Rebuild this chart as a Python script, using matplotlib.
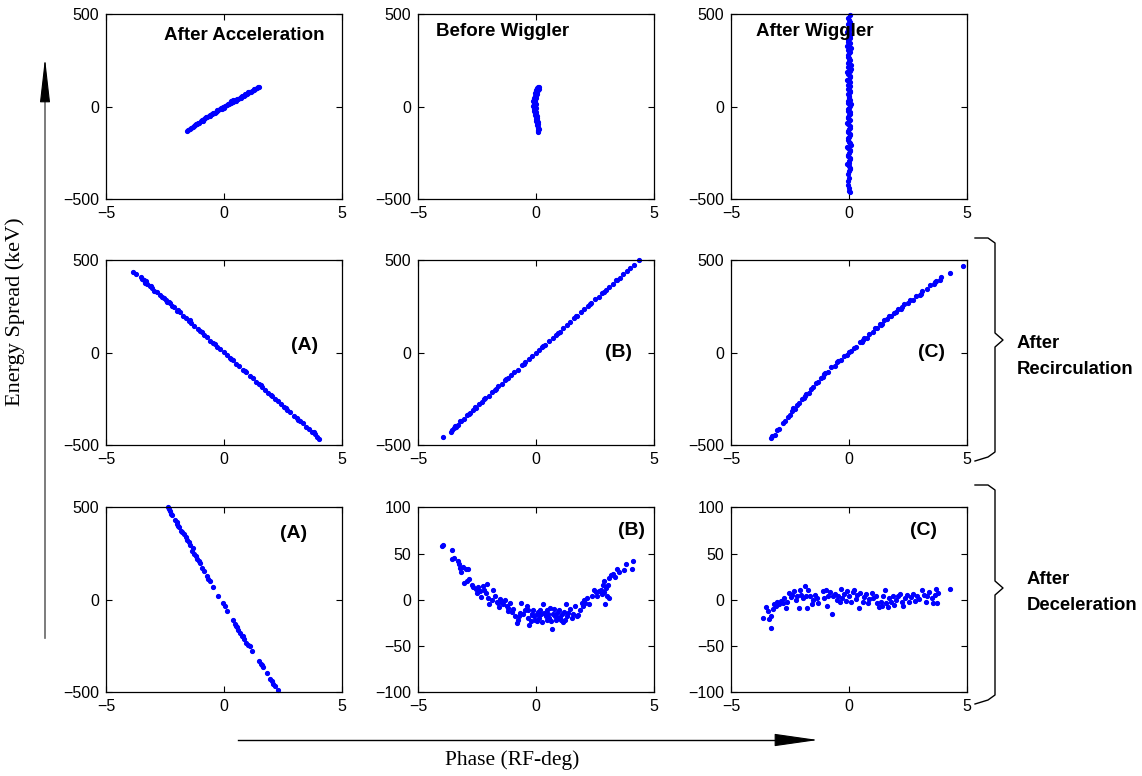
import matplotlib
matplotlib.use("Agg")
import matplotlib.pyplot as plt

# ---- panel data (phase in RF-deg, energy spread in keV) ----
acc_x = [-1.58, -1.52, -1.45, -1.40, -1.33, -1.28, -1.22, -1.15, -1.10, -1.05, -0.98, -0.92, -0.86,
         -0.80, -0.75, -0.70, -0.64, -0.58, -0.52, -0.47, -0.40, -0.35, -0.30, -0.24, -0.18, -0.12,
         -0.06, 0.00, 0.06, 0.12, 0.18, 0.24, 0.30, 0.36, 0.42, 0.48, 0.54, 0.60, 0.66, 0.72, 0.78,
         0.84, 0.90, 0.96, 1.02, 1.08, 1.14, 1.20, 1.26, 1.32, 1.38, 1.45, 1.50,
         -1.20, -0.90, -0.60, -0.30, 0.00, 0.20, 0.40, 0.70, 1.00, 1.25, -0.50, 0.90, 0.50, -0.10, 0.30]
acc_y = [-134, -128, -122, -115, -112, -104, -100, -95, -88, -86, -78, -75, -68,
         -64, -58, -56, -50, -45, -42, -36, -32, -27, -24, -18, -14, -10,
         -4, 0, 4, 9, 14, 17, 22, 27, 30, 35, 40, 43, 48, 52, 57,
         60, 65, 68, 73, 77, 81, 86, 89, 94, 99, 104, 107,
         -92, -80, -52, -18, -6, 12, 34, 46, 78, 93, -38, 71, 31, -13, 28]

bw_x = [0.14, 0.10, 0.05, 0.12, 0.02, 0.08, -0.02, 0.06, -0.04, 0.03, -0.06, 0.01, -0.08, -0.01,
        -0.10, -0.03, -0.12, -0.05, -0.09, -0.02, -0.11, -0.04, -0.08, -0.01, -0.10, -0.03, -0.07,
        0.00, -0.06, 0.02, -0.04, 0.03, -0.02, 0.05, 0.00, 0.06, 0.02, 0.08, 0.04, 0.09, 0.05, 0.10,
        0.07, 0.11, 0.08, 0.10, 0.09]
bw_y = [107, 104, 100, 98, 92, 88, 82, 78, 72, 66, 60, 55, 48, 44,
        38, 32, 28, 22, 16, 12, 6, 2, -4, -8, -14, -18, -24,
        -28, -34, -38, -44, -50, -55, -60, -66, -72, -78, -84, -90, -96, -102, -108,
        -114, -120, -126, -132, -138]

aw_x = [0.05, 0.02, -0.03, 0.04, -0.05, 0.01, 0.06, -0.02, 0.03, -0.06, 0.00, 0.05, -0.04, 0.02,
        -0.01, 0.07, -0.05, 0.03, -0.02, 0.05, -0.06, 0.01, 0.04, -0.03, 0.06, -0.01, 0.02, -0.05,
        0.08, 0.00, -0.04, 0.05, -0.02, 0.03, -0.06, 0.06, 0.01, -0.03, 0.04, -0.05, 0.02, 0.07,
        -0.02, 0.03, -0.04, 0.05, 0.00, -0.06, 0.04, 0.01, -0.03, 0.02,
        -0.04, 0.06, -0.01, 0.03, -0.07, 0.02, 0.05, -0.03, 0.00, 0.07, -0.05, 0.02, -0.02, 0.06,
        -0.04, 0.01, 0.08, -0.06, 0.03, -0.01, 0.05, -0.03, 0.02, 0.06, -0.05, 0.00, 0.04, -0.02,
        0.03, -0.04, 0.05, 0.01, -0.03, 0.02]
aw_y = [495, 470, 450, 432, 415, 398, 380, 362, 345, 330, 312, 296, 280, 262,
        245, 228, 212, 195, 178, 160, 145, 128, 110, 95, 78, 60, 44, 28,
        12, -5, -22, -38, -55, -72, -88, -105, -122, -140, -156, -172, -190, -208,
        -225, -242, -260, -278, -295, -312, -330, -350, -405, -455,
        482, 460, 440, 422, 405, 388, 370, 352, 336, 320, 304, 288, 270, 252,
        236, 220, 203, 186, 168, 152, 136, 118, 102, 86, 68, 52, 36, 20,
        4, -14, -30, -46, -64, -80]
aw_extra_x = [-0.05, 0.04, -0.02, 0.06, 0.01, -0.04, 0.03, -0.06, 0.05, 0.00, -0.03, 0.04, 0.02,
              -0.01, 0.05, -0.04, 0.02, -0.05, 0.01, 0.03]
aw_extra_y = [-96, -114, -130, -148, -164, -180, -198, -216, -234, -250, -268, -286, -304,
              -320, -340, -365, -385, -425, -440, -462]

recA_x = [-3.84, -3.72, -3.52, -3.48, -3.40, -3.35, -3.25, -3.15, -3.05, -2.95, -2.85, -2.72, -2.62,
          -2.55, -2.40, -2.30, -2.22, -2.10, -2.00, -1.88, -1.75, -1.62, -1.50, -1.38, -1.25, -1.12,
          -1.00, -0.85, -0.70, -0.58, -0.45, -0.30, -0.15, 0.00, 0.12, 0.25, 0.38, 0.52, 0.65, 0.80,
          0.95, 1.10, 1.22, 1.35, 1.48, 1.60, 1.75, 1.88, 2.00, 2.15, 2.28, 2.42, 2.55, 2.68, 2.80,
          2.95, 3.08, 3.20, 3.35, 3.48, 3.60, 3.72, 3.85, 3.95, 4.04,
          -3.30, -3.10, -2.45, -2.35, -1.95, -1.45, -0.95, -0.40, 0.30, 0.90, 1.55, 2.05, 2.62, 3.15, 3.80]
recA_y = [436, 428, 410, 398, 392, 380, 372, 360, 352, 336, 330, 312, 300,
          295, 272, 268, 252, 246, 226, 218, 200, 188, 170, 162, 142, 130,
          118, 96, 84, 64, 55, 32, 20, 2, -10, -30, -40, -60, -72, -92,
          -106, -128, -138, -158, -168, -186, -200, -220, -228, -250, -260, -280, -292, -312, -320,
          -342, -352, -370, -382, -402, -412, -430, -440, -458, -468,
          386, 362, 288, 276, 232, 176, 112, 48, -34, -100, -174, -236, -300, -366, -432]

recB_x = [-3.95, -3.62, -3.55, -3.48, -3.40, -3.30, -3.18, -3.05, -2.92, -2.80, -2.68, -2.55, -2.42,
          -2.30, -2.15, -2.00, -1.88, -1.75, -1.60, -1.45, -1.30, -1.18, -1.05, -0.92, -0.78, -0.60,
          -0.45, -0.30, -0.15, 0.00, 0.12, 0.25, 0.40, 0.55, 0.70, 0.85, 1.00, 1.15, 1.30, 1.45, 1.60,
          1.75, 1.90, 2.05, 2.20, 2.35, 2.50, 2.65, 2.80, 2.95, 3.10, 3.25, 3.40, 3.55, 3.70, 3.85,
          4.00, 4.15, 4.38,
          -3.45, -3.22, -2.85, -2.60, -2.20, -1.70, -1.25, -0.50, 0.30, 0.95, 1.70, 2.30, 2.90, 3.45]
recB_y = [-454, -428, -420, -408, -404, -392, -372, -360, -340, -326, -312, -298, -276,
          -266, -246, -232, -214, -202, -182, -168, -150, -136, -120, -104, -92, -68,
          -52, -36, -16, 0, 12, 30, 44, 64, 80, 98, 114, 132, 150, 164, 186,
          198, 222, 236, 254, 268, 290, 302, 322, 338, 356, 370, 392, 404, 426, 440,
          458, 474, 500,
          -398, -372, -332, -296, -252, -196, -142, -60, 36, 106, 196, 262, 328, 396]

recC_x = [-3.28, -3.25, -3.15, -3.05, -2.95, -2.80, -2.70, -2.60, -2.50, -2.42, -2.30, -2.20, -2.10,
          -2.00, -1.90, -1.80, -1.70, -1.60, -1.50, -1.40, -1.30, -1.20, -1.10, -1.00, -0.90, -0.75,
          -0.60, -0.50, -0.35, -0.20, -0.10, 0.00, 0.10, 0.20, 0.30, 0.45, 0.55, 0.65, 0.75, 0.85,
          1.00, 1.10, 1.20, 1.30, 1.40, 1.50, 1.60, 1.70, 1.80, 1.90, 2.00, 2.10, 2.20, 2.35, 2.50,
          2.60, 2.70, 2.85, 3.00, 3.10, 3.30, 3.45, 3.60, 3.70, 3.85, 3.90, 4.30, 4.85,
          -2.35, -1.85, -1.05, -0.45, 0.60, 1.35, 2.25, 3.05, 3.65]
recC_y = [-464, -453, -446, -420, -413, -380, -372, -348, -340, -318, -306, -282, -273,
          -250, -245, -222, -216, -194, -188, -166, -159, -137, -131, -109, -103, -79,
          -70, -51, -42, -18, -14, 4, 8, 27, 30, 56, 60, 79, 82, 102,
          111, 131, 134, 154, 157, 176, 180, 197, 199, 217, 219, 237, 239, 261, 267,
          285, 286, 309, 315, 333, 343, 365, 372, 389, 396, 409, 430, 469,
          -300, -236, -116, -47, 68, 150, 250, 320, 383]

decA_x = [-2.39, -2.33, -2.29, -2.25, -2.06, -2.01, -1.95, -1.89, -1.84, -1.79, -1.62, -1.55, -1.50,
          -1.44, -1.36, -1.27, -1.19, -1.13, -1.07, -0.93, -0.86, -0.73, -0.66, -0.59, -0.45, -0.24,
          -0.03, 0.04, 0.14, 0.40, 0.47, 0.54, 0.61, 0.68, 0.75, 0.85, 0.93, 1.03, 1.17, 1.47, 1.55,
          1.67, 1.81, 1.95, 2.02, 2.09, 2.27,
          -2.20, -1.98, -1.70, -1.30, -1.00, 0.50, 0.80, 1.10, 1.60, 2.15]
decA_y = [500, 490, 482, 466, 430, 418, 400, 392, 374, 368, 338, 322, 310,
          294, 266, 250, 238, 218, 210, 170, 158, 130, 110, 100, 68, 18,
          -18, -36, -63, -111, -129, -147, -165, -179, -197, -215, -233, -247, -278, -332, -349,
          -367, -398, -427, -439, -457, -489,
          456, 412, 356, 282, 196, -140, -196, -252, -356, -470]

decB_x = [-4.00, -3.93, -3.57, -3.55, -3.47, -3.29, -3.25, -3.22, -3.18, -3.08, -2.97, -2.88, -3.04,
          -2.94, -2.82, -2.73, -2.66, -2.54, -2.44, -2.51, -2.37, -2.26, -2.20, -2.12, -2.06, -2.33,
          -2.02, -1.98, -1.88, -1.81, -1.74, -1.67, -1.60, -1.53, -1.45, -1.38, -1.55, -1.31, -1.24,
          -1.17, -1.10, -1.03, -0.96, -0.89, -0.82, -0.75, -0.68, -0.64, -0.54, -0.47, -0.40, -0.32,
          -0.28, -0.23, -0.16, -0.11, -0.08, -0.04, 0.03, 0.10, 0.14, 0.17, 0.24, 0.28, 0.34, 0.41,
          0.45, 0.52, 0.56, 0.62, 0.66, 0.71, 0.76, 0.81, 0.88, 0.92, 0.99, 1.05, 1.12, 1.16, 1.20,
          1.26, 1.30, 1.37, 1.44, 1.51, 1.58, 1.65, 1.72, 1.79, 1.86, 1.94, 1.98, 2.03, 2.08, 2.15,
          2.26, 2.36, 2.46, 2.54, 2.60, 2.68, 2.75, 2.81, 2.85, 2.90, 2.94, 2.97, 3.00, 3.04, 3.09,
          3.16, 3.25, 3.35, 3.42, 3.53, 3.73, 3.81, 4.08, 4.12,
          -0.32, -0.18, 0.06, 0.20, 0.45, 0.85, 1.23, -1.20, -0.70, 0.60, 1.00, 2.90, 3.10]
decB_y = [58, 59, 54, 44, 45, 42, 39, 34, 30, 35, 33, 33, 18,
          20, 22, 16, 14, 12, 14, 7, 9, 15, 11, 7, 17, 3,
          2, -5, 0, 11, 4, -2, -4, 1, -2, -5, -8, 0, -7,
          -9, -4, -13, -10, -18, -25, -22, -14, -4, -16, -11, -7, -20,
          -27, -23, -15, -11, -18, -22, -16, -13, -20, -11, -24, -5, -14, -18,
          -11, -15, -20, -23, -32, -16, -10, -18, -14, -20, -11, -22, -16, -24, -13,
          -5, -18, -14, -10, -20, -16, -7, -18, -17, -11, -4, -7, 0, -4, 2,
          -5, 4, 11, 8, 4, 9, 11, 6, 16, 20, -5, 13, 4, 16, 23,
          27, 28, 25, 33, 30, 32, 39, 33, 42,
          -11, -17, -23, -15, -22, -22, -22, -12, -18, -9, -19, 8, 2]

decC_x = [-3.63, -3.52, -3.42, -3.38, -3.32, -3.28, -3.23, -3.18, -3.09, -3.04, -2.95, -2.88, -2.81,
          -2.74, -2.67, -2.61, -2.53, -2.46, -2.39, -2.33, -2.25, -2.19, -2.13, -2.08, -2.01, -1.94,
          -1.86, -1.82, -1.77, -1.72, -1.65, -1.58, -1.51, -1.44, -1.37, -1.30, -1.09, -1.06, -0.97,
          -0.92, -0.88, -0.81, -0.71, -0.66, -0.59, -0.52, -0.45, -0.38, -0.35, -0.28, -0.21, -0.13,
          -0.06, 0.01, 0.07, 0.16, 0.23, 0.30, 0.35, 0.44, 0.49, 0.58, 0.65, 0.72, 0.79, 0.86, 0.96,
          1.03, 1.14, 1.20, 1.29, 1.34, 1.40, 1.45, 1.51, 1.57, 1.64, 1.71, 1.77, 1.85, 1.91, 1.99,
          2.06, 2.16, 2.23, 2.30, 2.37, 2.47, 2.56, 2.63, 2.70, 2.80, 2.87, 2.97, 3.08, 3.18, 3.26,
          3.32, 3.40, 3.50, 3.57, 3.64, 3.69, 3.74, 3.79, 4.28]
decC_y = [-20, -8, -12, -21, -31, -18, -10, -5, -7, -2, -5, -1, -4,
          2, -9, -2, 7, 3, 5, 9, 0, 4, -9, 11, 5, 2,
          15, 4, -9, 11, 4, -5, 0, 5, 2, -4, 9, 2, 11,
          -7, 4, 8, -15, 4, 6, 0, 4, -3, 12, 2, 6, -1,
          9, 4, -3, 8, 10, 1, 5, -9, 7, -2, 3, 6, -4, 1, 7,
          2, 4, -4, -8, -2, -7, 4, 11, -4, -8, 2, -3, 4, -6, 0,
          4, 6, -2, -7, 2, 5, -2, 3, 6, -1, 4, 1, 10, 5, -2,
          4, 8, 2, -4, 5, 12, -4, 7, 12]

panels = [
    (acc_x, acc_y, 500, "After Acceleration", (0.85, 385)),
    (bw_x, bw_y, 500, "Before Wiggler", (-1.4, 405)),
    (aw_x + aw_extra_x, aw_y + aw_extra_y, 500, "After Wiggler", (-1.45, 405)),
    (recA_x, recA_y, 500, "(A)", (3.4, 40)),
    (recB_x, recB_y, 500, "(B)", (3.5, 0)),
    (recC_x, recC_y, 500, "(C)", (3.5, 0)),
    (decA_x, decA_y, 500, "(A)", (2.95, 360)),
    (decB_x, decB_y, 100, "(B)", (4.05, 75)),
    (decC_x, decC_y, 100, "(C)", (3.15, 75)),
]

COL_LEFT = [0.0928, 0.366, 0.640]
ROW_BOTTOM = [0.7436, 0.4265, 0.1082]
AX_W = 0.2067
AX_H = 0.238
BOLD_FONT = ["Liberation Sans Narrow", "Liberation Sans", "DejaVu Sans"]

plt.rcParams['font.family'] = ['Liberation Sans', 'DejaVu Sans']
fig = plt.figure(figsize=(11.42, 7.76), dpi=100)

for i, (xs, ys, ylim, label, lpos) in enumerate(panels):
    r, c = divmod(i, 3)
    ax = fig.add_axes([COL_LEFT[c], ROW_BOTTOM[r], AX_W, AX_H])
    ax.plot(xs, ys, linestyle='none', marker='.', color='#0000ff', markersize=5.5, clip_on=False)
    ax.set_xlim(-5, 5)
    ax.set_ylim(-ylim, ylim)
    ax.set_xticks([-5, 0, 5])
    if ylim == 500:
        ax.set_yticks([-500, 0, 500])
    else:
        ax.set_yticks([-100, -50, 0, 50, 100])
    ax.tick_params(direction='in', top=True, right=True, length=4, width=0.8,
                   labelsize=11.5, pad=5)
    for s in ax.spines.values():
        s.set_linewidth(0.9)
    ax.text(lpos[0], lpos[1], label, ha='center', va='center', fontsize=13.5 if r == 0 else 14,
            fontweight='bold', family=BOLD_FONT)

# overlay for the braces and axis arrows (pixel coordinates)
ov = fig.add_axes([0, 0, 1, 1], zorder=-5)
ov.set_xlim(0, 1142)
ov.set_ylim(776, 0)
ov.axis('off')


def brace(x, top, bottom, tip):
    ov.plot([975, 988, x, x, x + 8, x, x, 988, 975],
            [top, top, top + 5, tip - 7, tip, tip + 7, bottom - 5, bottom, bottom + 4],
            color='black', lw=1.0)


brace(995, 238, 457, 340)
brace(995, 485, 700, 588)
ov.text(1017, 343, "After", fontsize=13.3, fontweight='bold', family=BOLD_FONT, va='center')
ov.text(1017, 370, "Recirculation", fontsize=13.3, fontweight='bold', family=BOLD_FONT, va='center')
ov.text(1027, 580, "After", fontsize=13.3, fontweight='bold', family=BOLD_FONT, va='center')
ov.text(1027, 606, "Deceleration", fontsize=13.3, fontweight='bold', family=BOLD_FONT, va='center')

# vertical arrow: grey shaft, narrow black head
ov.plot([45, 45], [638, 80], color='#666666', lw=1.2)
ov.annotate('', xy=(45, 58), xytext=(45, 88),
            arrowprops=dict(arrowstyle='-|>,head_width=0.16,head_length=1.4', color='black',
                            lw=0.8, shrinkA=0, shrinkB=0, mutation_scale=20))
# horizontal arrow
ov.plot([238, 795], [740, 740], color='black', lw=1.0)
ov.annotate('', xy=(818, 740), xytext=(788, 740),
            arrowprops=dict(arrowstyle='-|>,head_width=0.2,head_length=1.4', color='black',
                            lw=0.8, shrinkA=0, shrinkB=0, mutation_scale=20))
ov.text(15, 312, "Energy Spread (keV)", rotation=90, ha='center', va='center',
        fontsize=16, family=['Liberation Serif', 'DejaVu Serif'])
ov.text(512, 760, "Phase (RF-deg)", ha='center', va='center',
        fontsize=15.5, family=['Liberation Serif', 'DejaVu Serif'])

fig.savefig("out.png", dpi=100)
